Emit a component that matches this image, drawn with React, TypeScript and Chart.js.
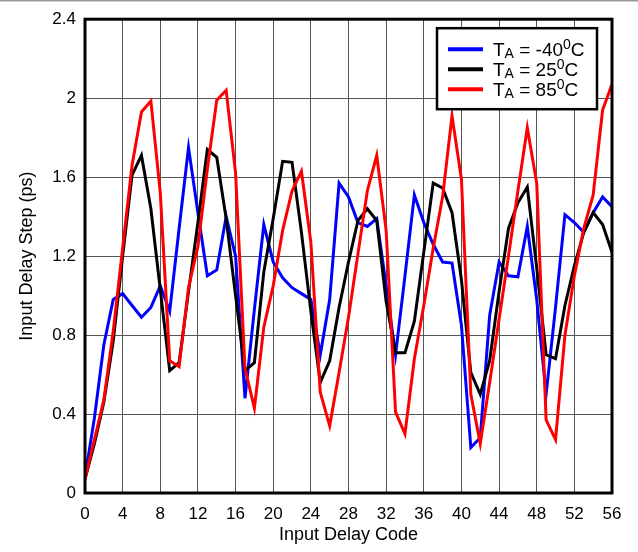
import React, { useEffect, useRef } from "react";
import { Chart, registerables } from "chart.js";

Chart.register(...registerables);

const codes = [
  0, 1, 2, 3, 4, 5, 6, 7, 8, 9, 10, 11, 12, 13, 14, 15, 16, 17, 18, 19, 20,
  21, 22, 23, 24, 25, 26, 27, 28, 29, 30, 31, 32, 33, 34, 35, 36, 37, 38, 39,
  40, 41, 42, 43, 44, 45, 46, 47, 48, 49, 50, 51, 52, 53, 54, 55, 56,
];

const stepMinus40 = [
  0.08, 0.38, 0.75, 0.98, 1.01, 0.95, 0.89, 0.94, 1.05, 0.92, 1.34, 1.75,
  1.42, 1.1, 1.13, 1.4, 1.2, 0.48, 0.93, 1.36, 1.17, 1.09, 1.04, 1.01, 0.98,
  0.7, 0.98, 1.57, 1.5, 1.37, 1.35, 1.39, 1.05, 0.7, 1.1, 1.51, 1.37, 1.26,
  1.17, 1.165, 0.85, 0.23, 0.28, 0.9, 1.17, 1.1, 1.095, 1.35, 0.98, 0.5, 0.94,
  1.41, 1.37, 1.32, 1.42, 1.5, 1.45,
];

const step25 = [
  0.07, 0.25, 0.46, 0.77, 1.2, 1.61, 1.71, 1.44, 1.03, 0.62, 0.66, 1.02, 1.37,
  1.74, 1.7, 1.39, 1.0, 0.62, 0.66, 1.12, 1.39, 1.68, 1.675, 1.32, 0.92, 0.56,
  0.67, 0.94, 1.17, 1.38, 1.44, 1.38, 0.97, 0.71, 0.71, 0.87, 1.22, 1.57,
  1.545, 1.42, 1.08, 0.61, 0.5, 0.67, 1.02, 1.34, 1.47, 1.55, 1.14, 0.7, 0.68,
  0.95, 1.15, 1.32, 1.42, 1.36, 1.22,
];

const step85 = [
  0.07, 0.27, 0.47, 0.82, 1.24, 1.66, 1.93, 1.985, 1.52, 0.67, 0.64, 1.04,
  1.25, 1.64, 1.99, 2.04, 1.62, 0.63, 0.43, 0.84, 1.05, 1.33, 1.53, 1.63, 1.27,
  0.51, 0.34, 0.61, 0.89, 1.21, 1.53, 1.71, 1.33, 0.41, 0.3, 0.68, 0.95, 1.24,
  1.5, 1.91, 1.59, 0.5, 0.25, 0.56, 0.88, 1.2, 1.53, 1.85, 1.57, 0.37, 0.27,
  0.8, 1.1, 1.34, 1.51, 1.94, 2.07,
];

const seriesTemps = ["-40", "25", "85"];
const seriesColors = ["#0000ff", "#000000", "#ff0000"];
const seriesValues = [stepMinus40, step25, step85];

const xTitle = "Input Delay Code";
const yTitle = "Input Delay Step (ps)";

const FONT = '"Liberation Sans", Arial, sans-serif';

const framePlugin = {
  id: "frameAndLegend",
  afterDatasetsDraw(chart: any) {
    const { ctx, chartArea } = chart;
    const { left, top, right, bottom } = chartArea;
    ctx.save();
    // plot frame
    ctx.strokeStyle = "#000";
    ctx.lineWidth = 3;
    ctx.strokeRect(left, top, right - left, bottom - top);

    // legend
    const boxW = 160;
    const boxH = 81;
    const bx = right - 15 - boxW;
    const by = top + 9;
    ctx.fillStyle = "#fff";
    ctx.fillRect(bx, by, boxW, boxH);
    ctx.lineWidth = 2.5;
    ctx.strokeStyle = "#000";
    ctx.strokeRect(bx, by, boxW, boxH);

    ctx.textBaseline = "alphabetic";
    ctx.textAlign = "left";
    for (let i = 0; i < seriesTemps.length; i++) {
      const cy = by + 21 + i * 20;
      ctx.beginPath();
      ctx.strokeStyle = seriesColors[i];
      ctx.lineWidth = 4;
      ctx.moveTo(bx + 11, cy);
      ctx.lineTo(bx + 46, cy);
      ctx.stroke();

      ctx.fillStyle = "#000";
      let x = bx + 56;
      ctx.font = `19px ${FONT}`;
      ctx.fillText("T", x, cy + 6.5);
      x += ctx.measureText("T").width;
      ctx.font = `14px ${FONT}`;
      ctx.fillText("A", x, cy + 9);
      x += ctx.measureText("A").width;
      ctx.font = `19px ${FONT}`;
      const mid = " = " + seriesTemps[i];
      ctx.fillText(mid, x, cy + 6.5);
      x += ctx.measureText(mid).width;
      ctx.font = `14px ${FONT}`;
      ctx.fillText("0", x, cy - 0.5);
      x += ctx.measureText("0").width;
      ctx.font = `19px ${FONT}`;
      ctx.fillText("C", x, cy + 6.5);
    }

    // page rule at the very top
    ctx.fillStyle = "#9a9a9a";
    ctx.fillRect(0, 0, chart.width, 1.5);
    ctx.restore();
  },
};

export default function App() {
  const canvasRef = useRef<HTMLCanvasElement | null>(null);

  useEffect(() => {
    const canvas = canvasRef.current;
    if (!canvas) return;
    const chart = new Chart(canvas, {
      type: "line",
      data: {
        datasets: seriesValues.map((vals, i) => ({
          label: `TA = ${seriesTemps[i]}°C`,
          data: codes.map((c, j) => ({ x: c, y: vals[j] })),
          borderColor: seriesColors[i],
          backgroundColor: seriesColors[i],
          borderWidth: 3,
          pointRadius: 0,
          tension: 0,
          fill: false,
          order: 2 - i,
        })),
      },
      options: {
        responsive: false,
        animation: false,
        events: [],
        layout: { padding: { left: 0, top: 19, right: 26, bottom: 0 } },
        plugins: {
          legend: { display: false },
          tooltip: { enabled: false },
          title: { display: false },
        },
        scales: {
          x: {
            type: "linear",
            min: 0,
            max: 56,
            afterFit: (s: any) => {
              s.height = 59;
            },
            ticks: {
              stepSize: 4,
              color: "#000",
              padding: 11,
              maxRotation: 0,
              autoSkip: false,
              font: { family: FONT, size: 17 },
            },
            grid: { color: "#555", lineWidth: 1, drawTicks: false },
            border: { display: false },
            title: {
              display: true,
              text: xTitle,
              color: "#000",
              font: { family: FONT, size: 18 },
              padding: { top: 0, bottom: 6 },
            },
          },
          y: {
            type: "linear",
            min: 0,
            max: 2.4,
            afterFit: (s: any) => {
              s.width = 85;
            },
            ticks: {
              stepSize: 0.4,
              color: "#000",
              padding: 9,
              font: { family: FONT, size: 17 },
              callback: (v: any) => String(Number(Number(v).toFixed(1))),
            },
            grid: { color: "#555", lineWidth: 1, drawTicks: false },
            border: { display: false },
            title: {
              display: true,
              text: yTitle,
              color: "#000",
              font: { family: FONT, size: 18 },
              padding: { top: 16, bottom: 0 },
            },
          },
        },
      },
      plugins: [framePlugin],
    });
    return () => chart.destroy();
  }, []);

  return (
    <div
      style={{
        position: "fixed",
        left: 0,
        top: 0,
        width: 638,
        height: 552,
        background: "#fff",
      }}
    >
      <canvas
        ref={canvasRef}
        width={638}
        height={552}
        style={{ width: 638, height: 552, display: "block" }}
      />
    </div>
  );
}
